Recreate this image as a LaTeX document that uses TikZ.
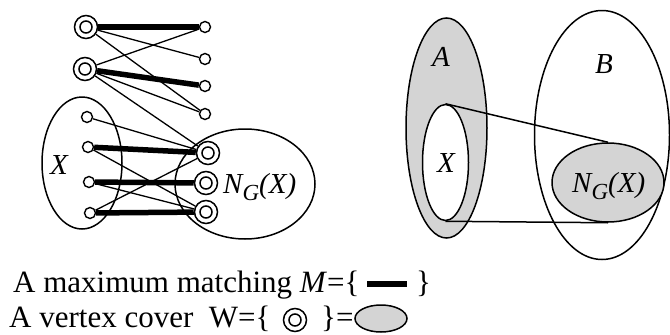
\documentclass[tikz,border=0pt]{standalone}
\usepackage{fontspec}
\setmainfont{Liberation Serif}
\usetikzlibrary{backgrounds,shapes.geometric}
\definecolor{setgray}{RGB}{212,212,212}
\newcommand{\ngx}{N\raisebox{-7pt}{\fontsize{23}{23}\selectfont G}(X)}
\begin{document}
\begin{tikzpicture}[x=1pt,y=-1pt,
 vtx/.style={circle,draw,fill=white,line width=1.4pt,minimum size=11pt,inner sep=0pt},
 cov/.style={circle,draw,fill=white,line width=1.5pt,minimum size=23pt,inner sep=0pt,
   path picture={\draw[line width=1.5pt] (path picture bounding box.center) circle (6pt);}},
 thinedge/.style={line width=1.3pt},
 matchedge/.style={line width=5.5pt},
 setline/.style={line width=1.5pt},
 setnode/.style={ellipse,draw,line width=1.5pt,inner sep=0pt},
 lbl/.style={inner sep=0pt,font=\fontsize{29}{33}\selectfont\itshape},
 txt/.style={inner sep=0pt,anchor=base west,font=\fontsize{31}{36}\selectfont},
]
\useasboundingbox (0,0) rectangle (670,335);

% ---------- left: bipartite graph ----------
\node[cov] (u1) at (86,27) {};
\node[cov] (u2) at (85,69) {};
\node[vtx] (r1) at (205,27) {};
\node[vtx] (r2) at (205,59) {};
\node[vtx] (r3) at (205,86) {};
\node[vtx] (r4) at (205,114) {};
\node[vtx] (x1) at (87,117) {};
\node[vtx] (x2) at (88,147) {};
\node[vtx] (x3) at (89,182) {};
\node[vtx] (x4) at (90,213) {};
\node[cov] (n1) at (208,153) {};
\node[cov] (n2) at (206,183) {};
\node[cov] (n3) at (206,212) {};

\begin{pgfonlayer}{background}
\draw[setline] (82,163) ellipse [x radius=40pt, y radius=66pt];
\draw[setline] (245,184) ellipse [x radius=70pt, y radius=55pt];
\draw[matchedge] (u1) -- (r1);
\draw[matchedge] (u2) -- (r3);
\draw[matchedge] (x2) -- (n1);
\draw[matchedge] (x3) -- (n2);
\draw[matchedge] (x4) -- (n3);
\draw[thinedge] (u1) -- (r2);
\draw[thinedge] (u1) -- (r4);
\draw[thinedge] (u2) -- (r1);
\draw[thinedge] (u2) -- (r4);
\draw[thinedge] (u2) -- (n1);
\draw[thinedge] (x1) -- (n1);
\draw[thinedge] (x2) -- (n3);
\draw[thinedge] (x3) -- (n3);
\draw[thinedge] (x4) -- (n1);
\end{pgfonlayer}

\node[lbl] (lxl) at (59,165) {X};
\node[lbl,anchor=base west] (lnl) at (223,193) {\ngx};

% ---------- right: sets ----------
\node[setnode,fill=setgray,minimum width=81pt,minimum height=220pt] (A) at (446.5,128) {};
\node[setnode,fill=white,minimum width=46pt,minimum height=116pt] (Xr) at (445.5,162.5) {};
\node[setnode,minimum width=135pt,minimum height=249pt] (B) at (602,135) {};
\node[setnode,fill=setgray,minimum width=112pt,minimum height=79pt] (Nr) at (608,182.5) {};
\draw[setline] (Xr.north) -- (Nr.north);
\draw[setline] (Xr.south) -- (Nr.south);

\node[lbl] (la) at (441,57) {A};
\node[lbl] (lb) at (604,64.5) {B};
\node[lbl] (lxr) at (446,163) {X};
\node[lbl,anchor=base west] (lnr) at (572,192) {\ngx};

% ---------- legend ----------
\node[txt] (tx1) at (13,292) {A maximum matching \textit{M}=\{};
\coordinate (m1) at (367,284);
\coordinate (m2) at (407,284);
\draw[line width=6pt] (m1) -- (m2);
\node[txt] (tx1b) at (416,292) {\}};
\node[txt] (tx2) at (9,327) {A vertex cover\ \ W=\{};
\node[cov] (lgc) at (295,320) {};
\node[txt] (tx2b) at (321,327) {\}=};
\node[setnode,fill=setgray,minimum width=52pt,minimum height=27pt] (lge) at (381,318.5) {};
\end{tikzpicture}
\end{document}
